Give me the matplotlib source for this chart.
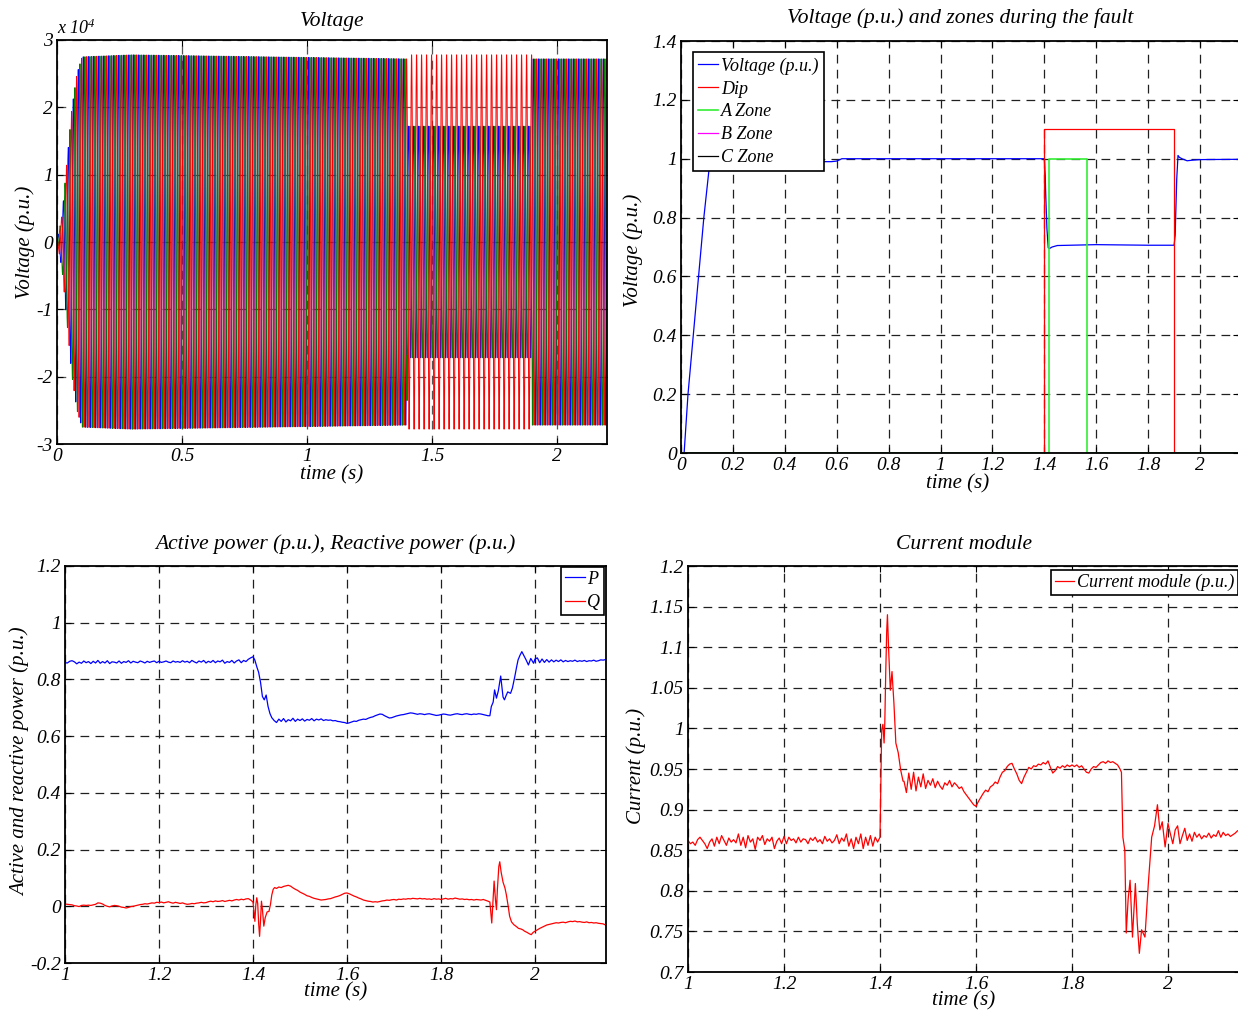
import numpy as np
import matplotlib
matplotlib.use('Agg')
import matplotlib.pyplot as plt

plt.rcParams['font.family'] = ['Liberation Serif', 'DejaVu Serif']
plt.rcParams['font.style'] = 'italic'
plt.rcParams['mathtext.fontset'] = 'custom'
plt.rcParams['mathtext.rm'] = 'Liberation Serif:italic'
plt.rcParams['mathtext.it'] = 'Liberation Serif:italic'

# ---------------- Panel 1 : three-phase voltage (envelope) ----------------
freq_hz = 50.0
env_t = [0.0, 0.02, 0.04, 0.06, 0.08, 0.10, 0.30, 1.400, 1.401, 1.900, 1.901, 2.20]
amp_a = [0, 0.4e4, 1.2e4, 2.0e4, 2.5e4, 2.75e4, 2.78e4, 2.72e4, 1.72e4, 1.72e4, 2.72e4, 2.72e4]
amp_b = [0, 0.4e4, 1.2e4, 2.0e4, 2.5e4, 2.75e4, 2.78e4, 2.72e4, 1.72e4, 1.72e4, 2.72e4, 2.72e4]
amp_c = [0, 0.4e4, 1.2e4, 2.0e4, 2.5e4, 2.75e4, 2.78e4, 2.72e4, 2.78e4, 2.78e4, 2.72e4, 2.72e4]
phase_deg = [0.0, -120.0, 120.0]

# ---------------- Panel 2 : voltage p.u. and zones ----------------
vpu_t = [0.0, 0.012, 0.027, 0.088, 0.110, 0.125, 0.30, 0.45, 0.53, 0.58, 0.60, 0.62, 1.00,
         1.400, 1.403, 1.406, 1.410, 1.415, 1.420, 1.430, 1.450, 1.600, 1.800, 1.900,
         1.904, 1.910, 1.915, 1.920, 1.930, 1.950, 1.970, 2.000, 2.150]
vpu = [0.0, 0.0, 0.2, 0.8, 0.98, 1.0, 1.0, 0.995, 0.99, 0.99, 0.992, 1.0, 1.0,
       1.0, 0.95, 0.86, 0.76, 0.697, 0.695, 0.700, 0.705, 0.708, 0.706, 0.706,
       0.74, 0.93, 1.011, 1.005, 1.0, 0.993, 0.995, 0.997, 0.998]
dip_t = [0.0, 1.4, 1.4, 1.9, 1.9, 2.15]
dip = [0.0, 0.0, 1.1, 1.1, 0.0, 0.0]
zoneA_t = [0.0, 1.4167, 1.4167, 1.565, 1.565, 2.15]
zoneA = [0.0, 0.0, 1.0, 1.0, 0.0, 0.0]
zoneB_t = [0.0, 2.15]
zoneB = [0.0, 0.0]
zoneC_t = [0.0, 2.15]
zoneC = [0.0, 0.0]

# ---------------- Panels 3/4 : sampling grids ----------------
t_pre = np.round(1.0 + 0.005 * np.arange(80), 4)     # 1.000 .. 1.395
t_fault = np.round(1.45 + 0.005 * np.arange(91), 4)  # 1.450 .. 1.900
t_post = np.round(2.0 + 0.005 * np.arange(31), 4)    # 2.000 .. 2.150

# Active power P
P_pre = [0.859, 0.858, 0.864, 0.866, 0.862, 0.855, 0.861, 0.857, 0.865, 0.859,
         0.863, 0.856, 0.864, 0.858, 0.867, 0.857, 0.863, 0.858, 0.866, 0.856,
         0.862, 0.861, 0.858, 0.865, 0.857, 0.863, 0.860, 0.866, 0.858, 0.864,
         0.861, 0.859, 0.865, 0.862, 0.858, 0.864, 0.860, 0.863, 0.865, 0.859,
         0.864, 0.860, 0.862, 0.865, 0.861, 0.859, 0.865, 0.861, 0.863, 0.860,
         0.866, 0.861, 0.864, 0.859, 0.867, 0.862, 0.858, 0.865, 0.861, 0.867,
         0.858, 0.864, 0.860, 0.867, 0.859, 0.865, 0.862, 0.868, 0.857, 0.863,
         0.860, 0.867, 0.858, 0.865, 0.869, 0.859, 0.867, 0.863, 0.871, 0.876]
P_tr1_t = [1.400, 1.404, 1.408, 1.412, 1.416, 1.420, 1.424, 1.428, 1.432, 1.436, 1.440, 1.445]
P_tr1 = [0.880, 0.868, 0.845, 0.825, 0.790, 0.740, 0.728, 0.745, 0.705, 0.680, 0.665, 0.655]
P_fault = [0.648, 0.660, 0.652, 0.662, 0.650, 0.658, 0.654, 0.663, 0.652, 0.660, 0.655,
           0.661, 0.653, 0.659, 0.656, 0.662, 0.654, 0.660, 0.657, 0.661, 0.655,
           0.658, 0.656, 0.657, 0.654, 0.655, 0.652, 0.651, 0.649, 0.648, 0.645,
           0.647, 0.650, 0.653, 0.652, 0.656, 0.658, 0.660, 0.659, 0.663, 0.666, 0.668, 0.672, 0.675, 0.678,
           0.677, 0.672, 0.668, 0.664, 0.665, 0.668, 0.671, 0.673, 0.675, 0.676,
           0.678, 0.680, 0.682, 0.681, 0.679, 0.677, 0.679, 0.678, 0.676, 0.678,
           0.679, 0.677, 0.675, 0.673, 0.674, 0.676, 0.678, 0.677, 0.675, 0.674,
           0.676, 0.678, 0.679, 0.677, 0.676, 0.678, 0.679, 0.677, 0.676, 0.678,
           0.677, 0.679, 0.678, 0.676, 0.674, 0.672]
P_tr2_t = [1.904, 1.907, 1.911, 1.914, 1.918, 1.922, 1.927, 1.932, 1.935, 1.939, 1.942, 1.948,
           1.952, 1.957, 1.961, 1.964, 1.968, 1.972, 1.976, 1.981, 1.986, 1.991, 1.997]
P_tr2 = [0.672, 0.704, 0.720, 0.763, 0.734, 0.760, 0.812, 0.738, 0.728, 0.745, 0.756, 0.751,
         0.770, 0.810, 0.845, 0.869, 0.885, 0.898, 0.885, 0.869, 0.851, 0.874, 0.857]
P_post = [0.872, 0.876, 0.859, 0.872, 0.860, 0.870, 0.861, 0.869, 0.862, 0.868,
          0.863, 0.869, 0.862, 0.867, 0.863, 0.866, 0.864, 0.868, 0.863, 0.866,
          0.864, 0.867, 0.863, 0.866, 0.865, 0.868, 0.864, 0.866, 0.869, 0.868, 0.870]

# Reactive power Q
Q_pre = [0.008, 0.007, 0.006, 0.005, 0.002, 0.001, -0.001, 0.003, 0.004, 0.003,
         0.004, 0.003, 0.005, 0.007, 0.012, 0.011, 0.008, 0.003, 0.000, -0.002,
         0.001, 0.003, 0.002, 0.000, -0.003, -0.004, -0.006, -0.004, -0.001, 0.000,
         0.002, 0.004, 0.006, 0.007, 0.009, 0.008, 0.010, 0.012, 0.011, 0.014,
         0.013, 0.015, 0.012, 0.014, 0.016, 0.013, 0.011, 0.014, 0.012, 0.010,
         0.012, 0.009, 0.007, 0.008, 0.010, 0.009, 0.011, 0.012, 0.014, 0.012,
         0.013, 0.016, 0.018, 0.016, 0.019, 0.017, 0.018, 0.020, 0.017, 0.019,
         0.021, 0.019, 0.022, 0.024, 0.022, 0.025, 0.023, 0.026, 0.027, 0.022]
Q_tr1_t = [1.400, 1.402, 1.404, 1.406, 1.408, 1.410, 1.412, 1.414, 1.416, 1.418, 1.420,
           1.423, 1.426, 1.430, 1.434, 1.437, 1.440, 1.443, 1.446]
Q_tr1 = [0.015, -0.020, -0.053, 0.005, 0.030, 0.010, -0.060, -0.106, -0.050, 0.018, -0.010,
         -0.070, -0.040, -0.020, -0.018, 0.005, 0.040, 0.060, 0.066]
Q_fault = [0.063, 0.068, 0.066, 0.070, 0.072, 0.074, 0.071, 0.065, 0.060, 0.056, 0.050,
           0.046, 0.042, 0.037, 0.035, 0.031, 0.028, 0.026, 0.024, 0.022, 0.023,
           0.024, 0.026, 0.027, 0.030, 0.033, 0.035, 0.038, 0.042, 0.046, 0.047,
           0.044, 0.040, 0.036, 0.033, 0.029, 0.026, 0.022, 0.020, 0.018, 0.017,
           0.015, 0.016, 0.015, 0.017, 0.019, 0.020, 0.022, 0.021, 0.023, 0.024,
           0.022, 0.025, 0.024, 0.026, 0.025, 0.027, 0.026, 0.028, 0.027, 0.026,
           0.028, 0.026, 0.027, 0.025, 0.026, 0.024, 0.027, 0.025, 0.026, 0.024,
           0.026, 0.028, 0.025, 0.027, 0.026, 0.029, 0.027, 0.025, 0.026, 0.024,
           0.025, 0.023, 0.024, 0.022, 0.024, 0.023, 0.022, 0.024, 0.021, 0.018]
Q_tr2_t = [1.904, 1.906, 1.908, 1.910, 1.913, 1.916, 1.918, 1.920, 1.923, 1.925, 1.928,
           1.932, 1.936, 1.939, 1.943, 1.946, 1.950, 1.955, 1.960, 1.965, 1.970, 1.974,
           1.978, 1.983, 1.988, 1.992, 1.996]
Q_tr2 = [0.015, -0.020, -0.059, 0.000, 0.089, 0.020, -0.012, 0.060, 0.140, 0.157, 0.120,
         0.085, 0.065, 0.041, 0.000, -0.035, -0.055, -0.065, -0.071, -0.078, -0.080, -0.083,
         -0.088, -0.092, -0.097, -0.100, -0.092]
Q_post = [-0.088, -0.083, -0.078, -0.074, -0.070, -0.066, -0.064, -0.062, -0.060, -0.058,
          -0.059, -0.057, -0.056, -0.058, -0.055, -0.053, -0.054, -0.052, -0.055, -0.054,
          -0.056, -0.057, -0.055, -0.058, -0.057, -0.059, -0.058, -0.060, -0.061, -0.062, -0.066]

# Current module
I_pre = [0.862, 0.858, 0.860, 0.856, 0.863, 0.866, 0.862, 0.858, 0.852, 0.860,
         0.864, 0.855, 0.866, 0.858, 0.868, 0.862, 0.856, 0.865, 0.860, 0.863,
         0.859, 0.870, 0.856, 0.866, 0.853, 0.868, 0.860, 0.864, 0.851, 0.866,
         0.862, 0.868, 0.857, 0.864, 0.861, 0.866, 0.852, 0.861, 0.865, 0.858,
         0.867, 0.858, 0.866, 0.862, 0.864, 0.859, 0.866, 0.860, 0.864, 0.863,
         0.858, 0.865, 0.862, 0.866, 0.860, 0.863, 0.858, 0.867, 0.861, 0.864,
         0.859, 0.862, 0.869, 0.858, 0.865, 0.861, 0.870, 0.855, 0.864, 0.852,
         0.866, 0.858, 0.870, 0.852, 0.866, 0.856, 0.868, 0.855, 0.866, 0.860]
I_tr1_t = [1.400, 1.402, 1.4035, 1.406, 1.4085, 1.410, 1.412, 1.414, 1.4155, 1.418,
           1.4215, 1.425, 1.429, 1.433, 1.438, 1.443, 1.448]
I_tr1 = [0.866, 0.940, 0.998, 1.005, 0.982, 1.007, 1.070, 1.120, 1.140, 1.097,
         1.047, 1.070, 1.031, 0.982, 0.970, 0.949, 0.935]
I_fault = [0.935, 0.921, 0.945, 0.925, 0.946, 0.923, 0.940, 0.928, 0.944, 0.926, 0.936,
           0.930, 0.938, 0.927, 0.935, 0.929, 0.925, 0.933, 0.930, 0.936, 0.928,
           0.933, 0.930, 0.926, 0.928, 0.922, 0.918, 0.914, 0.910, 0.906, 0.904,
           0.910, 0.915, 0.920, 0.924, 0.922, 0.928, 0.930, 0.934, 0.932, 0.940,
           0.946, 0.948, 0.953, 0.956, 0.957, 0.950, 0.944, 0.936, 0.932, 0.940,
           0.946, 0.952, 0.950, 0.954, 0.953, 0.956, 0.955, 0.958, 0.956, 0.960,
           0.952, 0.945, 0.948, 0.953, 0.951, 0.954, 0.952, 0.955, 0.953, 0.955,
           0.953, 0.955, 0.952, 0.954, 0.950, 0.946, 0.945, 0.950, 0.953, 0.952,
           0.955, 0.958, 0.959, 0.957, 0.960, 0.958, 0.959, 0.957, 0.955, 0.950]
I_tr2_t = [1.903, 1.906, 1.910, 1.913, 1.917, 1.921, 1.926, 1.932, 1.936, 1.9403, 1.945,
           1.952, 1.959, 1.966, 1.972, 1.978, 1.983, 1.988, 1.994]
I_tr2 = [0.946, 0.866, 0.850, 0.748, 0.790, 0.813, 0.743, 0.809, 0.760, 0.723, 0.752,
         0.743, 0.809, 0.866, 0.880, 0.906, 0.875, 0.885, 0.854]
I_post = [0.883, 0.870, 0.858, 0.875, 0.880, 0.858, 0.868, 0.877, 0.862, 0.870,
          0.861, 0.872, 0.866, 0.870, 0.864, 0.868, 0.866, 0.871, 0.865, 0.869,
          0.867, 0.874, 0.866, 0.872, 0.868, 0.870, 0.867, 0.869, 0.871, 0.874, 0.874]


def join(pre, t1, v1, fault, t2, v2, post):
    assert len(pre) == len(t_pre) and len(fault) == len(t_fault) and len(post) == len(t_post)
    assert len(t1) == len(v1) and len(t2) == len(v2)
    t = np.concatenate([t_pre, t1, t_fault, t2, t_post])
    v = np.concatenate([pre, v1, fault, v2, post])
    return t, v


P_t, P_v = join(P_pre, P_tr1_t, P_tr1, P_fault, P_tr2_t, P_tr2, P_post)
Q_t, Q_v = join(Q_pre, Q_tr1_t, Q_tr1, Q_fault, Q_tr2_t, Q_tr2, Q_post)
I_t, I_v = join(I_pre, I_tr1_t, I_tr1, I_fault, I_tr2_t, I_tr2, I_post)

# ---------------- Figure ----------------
W, H = 1238, 1013
fig = plt.figure(figsize=(W / 100, H / 100), dpi=100)


def axes_px(left, right, top, bottom):
    return fig.add_axes([left / W, 1 - bottom / H, (right - left) / W, (bottom - top) / H])


ax1 = axes_px(57, 607, 40, 444)
ax2 = axes_px(681, 1239, 41, 453)
ax3 = axes_px(65, 605.5, 566, 963)
ax4 = axes_px(688, 1240, 566, 972)

FS = 14
GRID_DASH = (0, (7, 5))


def style(ax, xlim, xt, xtl, ylim, yt, ytl):
    ax.set_xlim(*xlim)
    ax.set_ylim(*ylim)
    ax.set_xticks(xt)
    ax.set_xticklabels(xtl, fontstyle='italic', fontsize=FS)
    ax.set_yticks(yt)
    ax.set_yticklabels(ytl, fontstyle='italic', fontsize=FS)
    ax.set_axisbelow(True)
    ax.grid(True, color='#202020', linestyle=GRID_DASH, linewidth=0.9)
    ax.tick_params(direction='in', length=4, width=0.8, labelsize=FS, pad=3,
                   top=True, right=True)
    for s in ax.spines.values():
        s.set_linewidth(1.3)
        s.set_color('black')


def labels(ax, title, xlab, ylab, tpos, xpos, ypos):
    ax.text(tpos[0], tpos[1], title, transform=ax.transAxes, ha='center', va='center',
            fontsize=15.5, fontstyle='italic')
    ax.set_xlabel(xlab, fontsize=15, fontstyle='italic')
    ax.xaxis.set_label_coords(*xpos)
    ax.xaxis.label.set_verticalalignment('center')
    ax.set_ylabel(ylab, fontsize=15, fontstyle='italic')
    ax.yaxis.set_label_coords(*ypos)
    ax.yaxis.label.set_verticalalignment('center')


def make_legend(ax, **kw):
    leg = ax.legend(borderaxespad=0, fancybox=False, framealpha=1, edgecolor='black',
                    handlelength=1.1, handletextpad=0.15,
                    prop={'size': 13, 'style': 'italic'}, **kw)
    leg.get_frame().set_linewidth(1.2)
    return leg


# Panel 1
t = np.arange(0.0, 2.2, 1e-4)
cols = ['#0000FF', '#008000', '#FF0000']
for amp, ph, c in zip([amp_a, amp_b, amp_c], phase_deg, cols):
    env = np.interp(t, env_t, amp)
    ax1.plot(t, env * np.sin(2 * np.pi * freq_hz * t + np.deg2rad(ph)), color=c, lw=0.7)
style(ax1, (0, 2.2), [0, 0.5, 1, 1.5, 2], ['0', '0.5', '1', '1.5', '2'],
      (-3e4, 3e4), [k * 1e4 for k in range(-3, 4)], [str(k) for k in range(-3, 4)])
ax1.grid(True, color='#555555', linestyle=GRID_DASH, linewidth=0.9)
ax1.text(0.0, 1.005, r'x 10$^4$', transform=ax1.transAxes, ha='left', va='bottom', fontsize=13)
labels(ax1, 'Voltage', 'time (s)', 'Voltage (p.u.)', (0.5, 1.0446), (0.5, -0.0767), (-0.058, 0.5))

# Panel 2
ax2.plot(vpu_t, vpu, color='#0000FF', lw=0.9, label='Voltage (p.u.)')
ax2.plot(dip_t, dip, color='#FF0000', lw=0.9, label='Dip')
ax2.plot(zoneA_t, zoneA, color='#33EE33', lw=1.2, label='A Zone')
ax2.plot(zoneB_t, zoneB, color='#FF00FF', lw=0.9, label='B Zone')
ax2.plot(zoneC_t, zoneC, color='#000000', lw=0.9, label='C Zone')
style(ax2, (0, 2.15), [0, 0.2, 0.4, 0.6, 0.8, 1, 1.2, 1.4, 1.6, 1.8, 2],
      ['0', '0.2', '0.4', '0.6', '0.8', '1', '1.2', '1.4', '1.6', '1.8', '2'],
      (0, 1.4), [0, 0.2, 0.4, 0.6, 0.8, 1, 1.2, 1.4],
      ['0', '0.2', '0.4', '0.6', '0.8', '1', '1.2', '1.4'])
make_legend(ax2, loc='upper left', bbox_to_anchor=(0.0215, 0.973),
            labelspacing=0.32, borderpad=0.3)
labels(ax2, 'Voltage (p.u.) and zones during the fault', 'time (s)', 'Voltage (p.u.)',
       (0.5, 1.056), (0.496, -0.0752), (-0.086, 0.493))

# Panel 3
ax3.plot(P_t, P_v, color='#0000FF', lw=0.9, label='P')
ax3.plot(Q_t, Q_v, color='#FF0000', lw=0.9, label='Q')
style(ax3, (1, 2.15), [1, 1.2, 1.4, 1.6, 1.8, 2], ['1', '1.2', '1.4', '1.6', '1.8', '2'],
      (-0.2, 1.2), [-0.2, 0, 0.2, 0.4, 0.6, 0.8, 1, 1.2],
      ['-0.2', '0', '0.2', '0.4', '0.6', '0.8', '1', '1.2'])
make_legend(ax3, loc='upper right', bbox_to_anchor=(0.997, 0.997),
            labelspacing=0.35, borderpad=0.2)
labels(ax3, 'Active power (p.u.), Reactive power (p.u.)', 'time (s)',
       'Active and reactive power (p.u.)', (0.5, 1.0554), (0.5, -0.073), (-0.083, 0.506))

# Panel 4
ax4.plot(I_t, I_v, color='#FF0000', lw=0.9, label='Current module (p.u.)')
style(ax4, (1, 2.15), [1, 1.2, 1.4, 1.6, 1.8, 2], ['1', '1.2', '1.4', '1.6', '1.8', '2'],
      (0.7, 1.2), [0.7, 0.75, 0.8, 0.85, 0.9, 0.95, 1, 1.05, 1.1, 1.15, 1.2],
      ['0.7', '0.75', '0.8', '0.85', '0.9', '0.95', '1', '1.05', '1.1', '1.15', '1.2'])
make_legend(ax4, loc='upper right', bbox_to_anchor=(0.9965, 0.99), borderpad=0.2)
labels(ax4, 'Current module', 'time (s)', 'Current (p.u.)',
       (0.5, 1.054), (0.5, -0.0714), (-0.094, 0.507))

fig.savefig('out.png', dpi=100)
